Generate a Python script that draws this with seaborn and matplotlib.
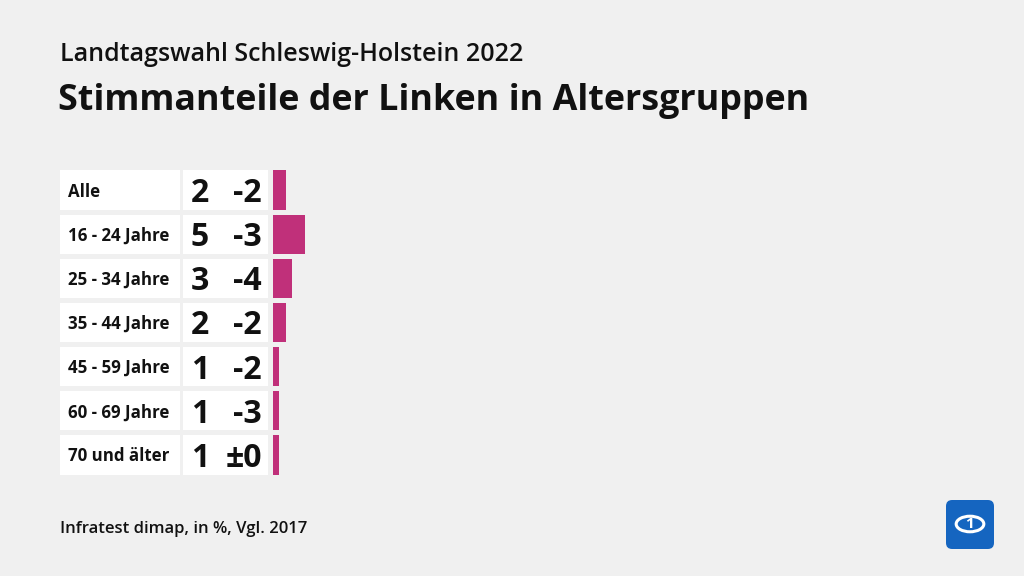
import matplotlib
matplotlib.use("Agg")
import matplotlib.pyplot as plt
import matplotlib.transforms as mtransforms
from matplotlib.patches import Rectangle, FancyBboxPatch, Circle
import seaborn as sns
import pandas as pd

categories = ["Alle", "16 - 24 Jahre", "25 - 34 Jahre", "35 - 44 Jahre",
              "45 - 59 Jahre", "60 - 69 Jahre", "70 und älter"]
shares = [2, 5, 3, 2, 1, 1, 1]
changes = ["-2", "-3", "-4", "-2", "-2", "-3", "±0"]

title_top = "Landtagswahl Schleswig-Holstein 2022"
title_main = "Stimmanteile der Linken in Altersgruppen"
footer = "Infratest dimap, in %, Vgl. 2017"

BG = "#f0f0f0"
BAR = "#c0307a"
FONT = "Open Sans"

sns.set_theme(style="white")
plt.rcParams["font.family"] = [FONT, "DejaVu Sans"]

W, H = 1024, 576
fig = plt.figure(figsize=(W / 100, H / 100), dpi=100, facecolor=BG)

def fx(px):
    return px / W

def fy(py):
    return 1 - py / H

# axes for bars: x starts at pixel 273, 6.4 px per unit
x0 = 273
ppu = 6.4
top, bottom = 168, 477
row_px = (bottom - top) / len(categories)
ax = fig.add_axes([fx(x0), fy(bottom), fx(W - x0), (bottom - top) / H])
ax.set_facecolor("none")

df = pd.DataFrame({"cat": categories, "val": shares})
sns.barplot(data=df, x="val", y="cat", orient="h", color=BAR, width=0.89,
            saturation=1, ax=ax, edgecolor="none")
ax.set_xlim(0, (W - x0) / ppu)
ax.set_ylim(len(categories) - 0.5, -0.5)
ax.axis("off")

trans = mtransforms.blended_transform_factory(fig.transFigure, ax.transData)
for i, (cat, v, ch) in enumerate(zip(categories, shares, changes)):
    ax.add_patch(Rectangle((fx(60), i - 0.445), fx(120), 0.89, transform=trans,
                           facecolor="white", edgecolor="none", clip_on=False))
    ax.add_patch(Rectangle((fx(183), i - 0.445), fx(85), 0.89, transform=trans,
                           facecolor="white", edgecolor="none", clip_on=False))
    ax.text(fx(68), i + 6.5 / row_px, cat, transform=trans, ha="left", va="baseline",
            fontsize=12.2, fontweight="bold", color="#111111")
    ax.text(fx(200), i + 12 / row_px, str(v), transform=trans, ha="center",
            va="baseline", fontsize=23, fontweight="bold", color="#111111")
    ax.text(fx(262), i + 12 / row_px, ch, transform=trans, ha="right",
            va="baseline", fontsize=23, fontweight="bold", color="#111111")

fig.text(fx(60), fy(61), title_top, ha="left", va="baseline", fontsize=18,
         fontweight="semibold", color="#111111")
fig.text(fx(58), fy(110), title_main, ha="left", va="baseline", fontsize=25.8,
         fontweight="bold", color="#111111")
fig.text(fx(60), fy(533), footer, ha="left", va="baseline", fontsize=12,
         fontweight="semibold", color="#111111")

# logo
logo = FancyBboxPatch((fx(946), fy(549)), fx(48), 49 / H,
                      boxstyle="round,pad=0,rounding_size=0.006",
                      transform=fig.transFigure, facecolor="#1565c0",
                      edgecolor="none", mutation_aspect=W / H)
fig.patches.append(logo)
fig.patches.append(Circle((fx(970), fy(524)), 0.0135, transform=fig.transFigure,
                          facecolor="none", edgecolor="white", linewidth=2.2))
fig.text(fx(970), fy(524), "1", ha="center", va="center", fontsize=11,
         fontweight="bold", color="white")

fig.savefig("out.png", dpi=100, facecolor=BG)
